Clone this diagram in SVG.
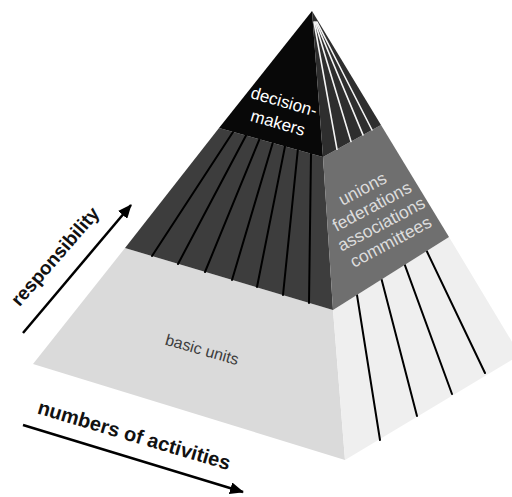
<svg xmlns="http://www.w3.org/2000/svg" width="512" height="497" viewBox="0 0 512 497">
<defs>
<style>
.lbl{font-family:"Liberation Sans",Arial,sans-serif;text-anchor:middle}
.axis{font-family:"Liberation Sans",Arial,sans-serif;font-weight:bold;fill:#111;text-anchor:middle}
.blk{stroke:#000;stroke-width:2;fill:none;stroke-linecap:round}
.wht{stroke:#f4f4f4;stroke-width:1.6;fill:none;stroke-linecap:round}
.arr{stroke:#000;stroke-width:2.5;fill:none;marker-end:url(#ah)}
</style>
<marker id="ah" viewBox="0 0 14 12" refX="13" refY="6" markerWidth="14" markerHeight="12" markerUnits="userSpaceOnUse" orient="auto">
<path d="M0,0 L14,6 L0,12 z" fill="#000"/>
</marker>
</defs>
<rect width="512" height="497" fill="#fff"/>

<g id="base-tier">
<polygon points="125,248 333,310 345,460 33,364" fill="#dadada"/>
<polygon points="333,310 449,237 520,355 345,460" fill="#efefef"/>
<line class="blk" x1="357" y1="295" x2="380" y2="440"/>
<line class="blk" x1="381.6" y1="279.4" x2="417" y2="416"/>
<line class="blk" x1="404.8" y1="264.8" x2="452" y2="394"/>
<line class="blk" x1="426.7" y1="251" x2="485" y2="373"/>
<text class="lbl" font-size="16" fill="#3e3e3e" transform="translate(202,350) rotate(16)" y="5">basic units</text>
</g>

<g id="mid-tier">
<polygon points="219,128 323,157 333,310 125,248" fill="#3d3d3d"/>
<polygon points="323,157 381,125 449,237 333,310" fill="#6f6f6f"/>
<line class="blk" x1="233" y1="132" x2="152" y2="256"/>
<line class="blk" x1="246" y1="135.5" x2="178" y2="264"/>
<line class="blk" x1="259.4" y1="139.3" x2="205" y2="272"/>
<line class="blk" x1="272.7" y1="143" x2="232" y2="280"/>
<line class="blk" x1="285" y1="146.4" x2="257" y2="287"/>
<line class="blk" x1="297.8" y1="150" x2="283" y2="295"/>
<line class="blk" x1="311" y1="153.7" x2="309" y2="303"/>
<g class="lbl" font-size="17.5" fill="#dcdcdc" transform="translate(377,216) rotate(-28)">
<text x="0" y="-25">unions</text>
<text x="0" y="-5">federations</text>
<text x="0" y="15">associations</text>
<text x="0" y="35">committees</text>
</g>
</g>

<g id="top-tier">
<polygon points="312,11 219,128 323,157" fill="#080808"/>
<polygon points="312,11 323,157 381,125" fill="#2e2e2e"/>
<line class="wht" x1="314" y1="22" x2="337" y2="149.3"/>
<line class="wht" x1="315" y1="22" x2="351" y2="141.5"/>
<line class="wht" x1="316" y1="22" x2="363" y2="134.9"/>
<line class="wht" x1="317" y1="22" x2="372" y2="130"/>
<g class="lbl" font-size="17" fill="#fff" transform="translate(281,112) rotate(16)">
<text x="0" y="-5">decision-</text>
<text x="0" y="17">makers</text>
</g>
</g>

<g id="connectors">
<line class="arr" x1="23" y1="333" x2="131" y2="205"/>
<line class="arr" x1="23" y1="425" x2="243" y2="492"/>
</g>

<g id="axis-labels">
<text class="axis" font-size="19" transform="translate(57,258) rotate(-49)" y="4">responsibility</text>
<text class="axis" font-size="20" transform="translate(134,436) rotate(16.5)" y="6">numbers of activities</text>
</g>
</svg>
